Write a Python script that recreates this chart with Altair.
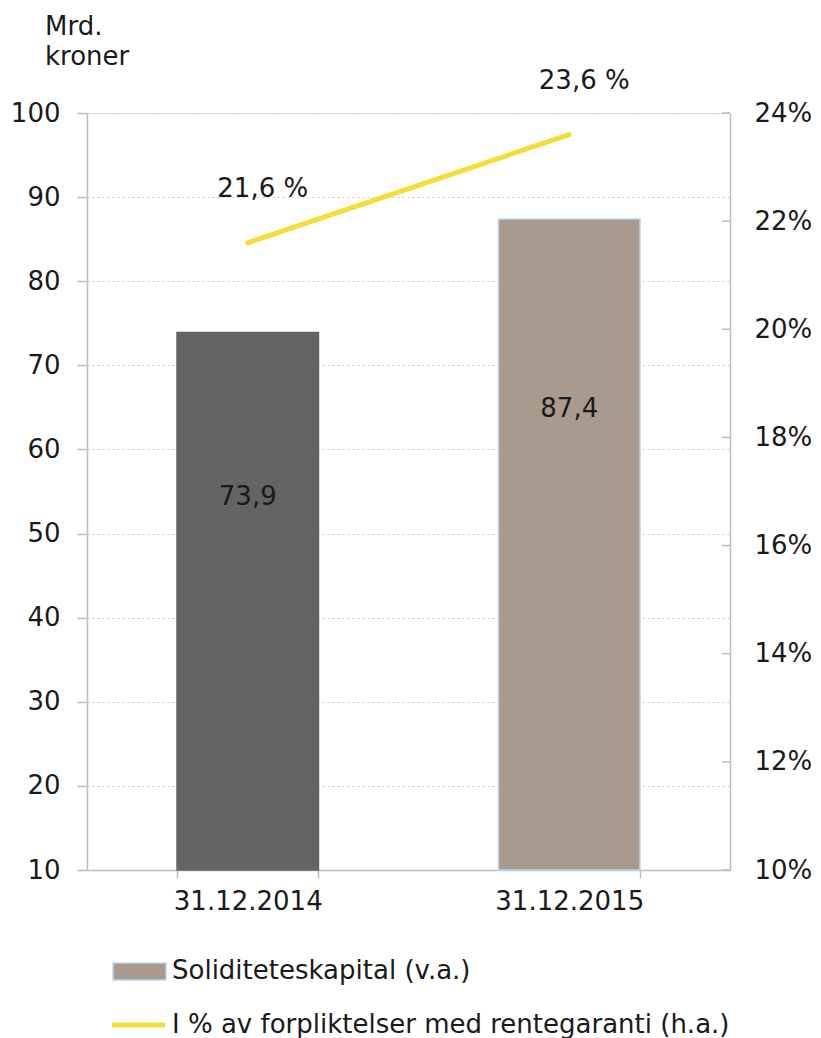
import altair as alt
import pandas as pd

# ---- data ----
dates = ["31.12.2014", "31.12.2015"]
kapital = [73.9, 87.4]
kapital_labels = ["73,9", "87,4"]
kapital_label_pos = [54.3, 64.8]
andel = [0.216, 0.236]
andel_labels = ["21,6 %", "23,6 %"]
bar_colors = ["#646464", "#a89b8e"]
bar_strokes = ["#646464", "#b9d5ee"]
left_ticks = [10, 20, 30, 40, 50, 60, 70, 80, 90, 100]
right_ticks = [0.10, 0.12, 0.14, 0.16, 0.18, 0.20, 0.22, 0.24]
legend_labels = ["Soliditeteskapital (v.a.)",
                 "I % av forpliktelser med rentegaranti (h.a.)"]
unit_title = ["Mrd.", "kroner"]

W, H = 643, 757
FONT = "DejaVu Sans"
FS = 26
TXT = "#1a1a1a"
AXC = "#bdbdbd"
YEL = "#f7dc3a"

df = pd.DataFrame({
    "dato": dates, "kapital": kapital, "klabel": kapital_labels,
    "kpos": kapital_label_pos, "andel": andel, "alabel": andel_labels,
})

x_axis = alt.Axis(title=None, labelAngle=0, tickBand="extent",
                  domainColor=AXC, tickColor=AXC, tickSize=8, tickWidth=1.5,
                  domainWidth=1.5,
                  labelPadding=10, labelFontSize=FS, labelColor=TXT,
                  labelFont=FONT, grid=False)
x_scale = alt.Scale(paddingInner=0.56, paddingOuter=0.28)
yl_axis = alt.Axis(title=None, values=left_ticks, grid=True,
                   gridColor="#c8c8c8", gridDash=[2, 3], gridWidth=1.2,
                   domainColor=AXC, tickColor=AXC, tickSize=10, tickWidth=1.5,
                   domainWidth=1.5,
                   labelPadding=17, labelFontSize=FS, labelColor=TXT,
                   labelFont=FONT)
yr_axis = alt.Axis(orient="right", title=None, values=right_ticks, format=".0%",
                   grid=False, ticks=False, domainColor=AXC, domainWidth=1.5,
                   labelPadding=24, labelFontSize=FS, labelColor=TXT, labelFont=FONT)
yl_scale = alt.Scale(domain=[10, 100], nice=False, zero=False)
yr_scale = alt.Scale(domain=[0.10, 0.24], nice=False, zero=False)


def X():
    return alt.X("dato:N", sort=dates, scale=x_scale, axis=x_axis)


bars = alt.Chart(df).mark_bar(strokeWidth=1.5).encode(
    x=X(),
    y=alt.Y("kapital:Q", scale=yl_scale, axis=yl_axis),
    y2=alt.datum(10),
    fill=alt.Color("dato:N", scale=alt.Scale(domain=dates, range=bar_colors), legend=None),
    stroke=alt.Stroke("dato:N", scale=alt.Scale(domain=dates, range=bar_strokes), legend=None),
)

bar_text = alt.Chart(df).mark_text(font=FONT, fontSize=FS, color=TXT, baseline="middle").encode(
    x=X(), y=alt.Y("kpos:Q", scale=yl_scale, axis=yl_axis), text="klabel:N"
)

left = alt.layer(bars, bar_text)

line = alt.Chart(df).mark_line(color=YEL, strokeWidth=5, strokeCap="round").encode(
    x=X(),
    y=alt.Y("andel:Q", scale=yr_scale, axis=yr_axis),
)

line_text = alt.Chart(df).mark_text(font=FONT, fontSize=FS, color=TXT, baseline="middle",
                                     dx=15, dy=-54).encode(
    x=X(), y=alt.Y("andel:Q", scale=yr_scale, axis=yr_axis), text="alabel:N"
)

rt = pd.DataFrame({"andel": right_ticks})
rticks = alt.Chart(rt).mark_rule(color=AXC, strokeWidth=1.5).encode(
    x=alt.value(W - 8), x2=alt.value(W), y=alt.Y("andel:Q", scale=yr_scale, axis=yr_axis)
)

right = alt.layer(line, line_text, rticks)

# unit title
tdf = pd.DataFrame({"t": unit_title, "yy": [-86, -56]})
title = alt.Chart(tdf).mark_text(font=FONT, fontSize=FS, color=TXT, align="left",
                                 baseline="middle").encode(
    x=alt.value(-42), y=alt.Y("yy:Q", scale=None, axis=None), text="t:N"
)

# custom legend
leg1 = pd.DataFrame({"t": [legend_labels[0]]})
leg2 = pd.DataFrame({"t": [legend_labels[1]]})
sw1 = alt.Chart(leg1).mark_rect(fill=bar_colors[1], stroke=bar_strokes[1], strokeWidth=1.5).encode(
    x=alt.value(26), x2=alt.value(79), y=alt.value(850), y2=alt.value(867)
)
lt1 = alt.Chart(leg1).mark_text(font=FONT, fontSize=FS, color=TXT, align="left",
                                baseline="middle").encode(
    x=alt.value(85), y=alt.value(858), text="t:N"
)
sw2 = alt.Chart(leg2).mark_rule(color=YEL, strokeWidth=5).encode(
    x=alt.value(25), x2=alt.value(78), y=alt.value(912)
)
lt2 = alt.Chart(leg2).mark_text(font=FONT, fontSize=FS, color=TXT, align="left",
                                baseline="middle").encode(
    x=alt.value(85), y=alt.value(912), text="t:N"
)

chart = alt.layer(left, right, title, sw1, lt1, sw2, lt2).resolve_scale(
    y="independent", fill="independent", stroke="independent"
).properties(
    width=W, height=H,
    autosize=alt.AutoSizeParams(type="none"),
    padding={"left": 79, "top": 105, "right": 83, "bottom": 168},
).configure_view(stroke=None).configure(font=FONT)

chart.save("out.html", embed_options={"renderer": "svg", "actions": False})
